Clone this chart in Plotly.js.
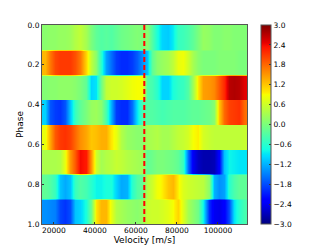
<!DOCTYPE html>
<html><head><meta charset="utf-8">
<script src="https://cdn.plot.ly/plotly-3.0.1.min.js"></script>
<style>html,body{margin:0;padding:0;background:#fff}#c{width:332px;height:249px}</style>
</head><body><div id="c"></div>
<script>
var velocity = [15425,17925,20425,22925,25425,27925,30425,32925,35425,37925,40425,42925,45425,47925,50425,52925,55425,57925,60425,62925,65425,67925,70425,72925,75425,77925,80425,82925,85425,87925,90425,92925,95425,97925,100425,102925,105425,107925,110425,112925,115425];
var phaseEdges = [0,0.125,0.25,0.375,0.5,0.625,0.75,0.875,1];
var row0 = [0.1,0.15,0.15,0.2,0.2,0.25,0.4,0.5,0.3,0,-0.2,-0.3,-0.25,-0.3,-0.2,-0.1,-0.05,0,0.05,0,0.1,-0.3,-0.7,-1.0,-1.05,-0.85,-0.5,-0.45,-0.35,-0.2,0,0.2,0.15,0.05,0.05,0.1,0.1,0.05,0.05,0.05,0];
var row1 = [1.3,1.7,2.0,2.1,2.1,2.1,1.95,1.7,1.1,0.5,0.1,-0.6,-1.3,-1.6,-1.9,-2.0,-2.0,-1.9,-1.7,-1.4,-1.1,-0.2,0.1,0.2,0.3,0.5,0.8,0.85,0.6,0.3,0.1,0,0,0,0.05,0.05,0.05,0.05,0,0,0];
var row2 = [0.05,0.1,0.1,0.15,0.15,0.15,0.1,0,-0.2,-1.0,-0.9,-0.1,0.5,0.6,0.6,0.65,0.75,0.85,0.9,0.9,-0.3,-0.4,-0.6,-1.0,-1.0,-0.7,-0.55,-0.5,-0.3,0.3,1.0,1.45,1.5,1.6,1.9,2.2,2.7,2.75,2.7,2.5,2.4];
var row3 = [-1.0,-1.75,-1.9,-1.95,-1.75,-1.1,-0.5,-0.2,0,0.2,0.25,0.1,-0.4,-1.2,-1.9,-2.0,-2.0,-1.6,-0.9,-0.4,-0.3,-0.3,-0.35,-0.4,-0.35,-0.3,-0.3,-0.3,-0.25,-0.2,-0.2,-0.15,-0.1,0.1,1.2,1.8,2.05,2.1,2.15,1.8,1.6];
var row4 = [0.8,1.4,1.9,2.1,2.15,2.05,1.8,1.55,1.4,1.2,1.25,1.35,1.35,1.0,0.8,0.4,0.2,0.15,0.1,0.1,0.3,0.35,0.4,0.3,0.3,0.4,0.5,0.55,0.65,0.9,0.95,0.65,0.55,0.5,0.5,0.5,0.5,0.5,0.5,0.55,0.55];
var row5 = [0.35,0.35,0.35,0.4,0.8,1.5,1.9,2.4,2.3,1.5,0.6,0.3,0.4,0.45,0.55,0.5,0.4,0.35,0.3,0.25,-0.2,-0.1,0,0,-0.05,-0.1,-0.2,-0.5,-1.6,-2.4,-2.65,-2.75,-2.75,-2.7,-2.3,-1.1,-0.8,-0.85,-0.9,-0.9,-0.9];
var row6 = [-0.2,-0.3,-0.5,-1.1,-1.25,-1.1,-0.5,-0.3,-0.4,-0.6,-0.8,-0.8,-0.7,-0.7,-1.0,-1.25,-1.2,-0.6,-0.3,-0.2,0.4,0.6,0.85,0.95,1.2,1.3,0.95,0.7,0.6,0.55,0.5,0.45,0.1,-1.2,-1.4,-1.3,-0.6,-0.35,-0.2,-0.2,-0.2];
var row7 = [-1.4,-1.45,-1.5,-1.85,-1.95,-1.8,-1.1,-1.0,-0.7,-0.1,1.0,1.3,1.3,0.8,0.4,0.3,0.2,0.15,0.1,0.2,0.55,0.6,0.6,0.65,0.75,0.9,1.1,0.7,0.3,0.1,-0.1,-0.8,-2.0,-2.4,-2.45,-2.3,-1.8,-0.9,-0.6,-0.4,-0.3];
var rows = [row0,row1,row2,row3,row4,row5,row6,row7];
var markerVelocity = 64077;
var colorTicks = [-3,-2.4,-1.8,-1.2,-0.6,0,0.6,1.2,1.8,2.4,3];
var colorTickText = ['\u22123.0','\u22122.4','\u22121.8','\u22121.2','\u22120.6','0.0','0.6','1.2','1.8','2.4','3.0'];
var jet = [[0,'#00007f'],[0.11,'#0000ff'],[0.125,'#0000ff'],[0.34,'#00dbff'],[0.35,'#00e5f7'],[0.375,'#14ffe2'],[0.64,'#eeff08'],[0.65,'#f7ff00'],[0.66,'#ffec00'],[0.89,'#ff1300'],[0.91,'#e80000'],[1,'#7f0000']];

var ys = [], zs = [], eps = 0.004;
rows.forEach(function(r,k){
  ys.push(phaseEdges[k]+eps); zs.push(r);
  ys.push(phaseEdges[k+1]-eps); zs.push(r);
});
var font = 'DejaVu Sans, sans-serif';
var data = [{
  type:'heatmap', x:velocity, y:ys, z:zs, zmin:-3, zmax:3, zsmooth:'best', colorscale:jet,
  colorbar:{x:1.0704, xanchor:'left', xpad:0, ypad:0, y:0.5, yanchor:'middle', len:1, lenmode:'fraction', thickness:10, thicknessmode:'pixels',
    outlinewidth:1, outlinecolor:'#555', tickmode:'array', tickvals:colorTicks, ticktext:colorTickText,
    ticks:'inside', ticklen:2, tickcolor:'#333', tickwidth:1, tickfont:{family:font,size:7.5,color:'#000'}}
},{
  type:'scatter', mode:'lines', x:[markerVelocity,markerVelocity], y:[0,1],
  line:{color:'#ff0000',width:2,dash:'5px,3px'}, showlegend:false, hoverinfo:'skip'
}];
var layout = {
  width:332, height:249, margin:{l:41.5,r:84.5,t:25,b:25}, paper_bgcolor:'#fff', plot_bgcolor:'#fff', showlegend:false,
  font:{family:font,color:'#000'},
  xaxis:{range:[14175,114175], tickvals:[20000,40000,60000,80000,100000], ticktext:['20000','40000','60000','80000','100000'], tickangle:0,
    ticks:'inside', ticklen:2, tickcolor:'#333', tickwidth:1, showline:true, linecolor:'#555', linewidth:1, mirror:true, showgrid:false, zeroline:false, ticklabelstandoff:-1,
    tickfont:{family:font,size:7.5,color:'#000'}, title:{text:'Velocity [m/s]',font:{family:font,size:9,color:'#000'},standoff:0}},
  yaxis:{range:[1,0], tickvals:[0,0.2,0.4,0.6,0.8,1], ticktext:['0.0','0.2','0.4','0.6','0.8','1.0'],
    ticks:'inside', ticklen:2, tickcolor:'#333', tickwidth:1, showline:true, linecolor:'#555', linewidth:1, mirror:true, showgrid:false, zeroline:false,
    tickfont:{family:font,size:7.5,color:'#000'}, title:{text:'Phase',font:{family:font,size:9,color:'#000'},standoff:2}}
};
Plotly.newPlot('c',data,layout,{displayModeBar:false,staticPlot:true});
</script></body></html>
